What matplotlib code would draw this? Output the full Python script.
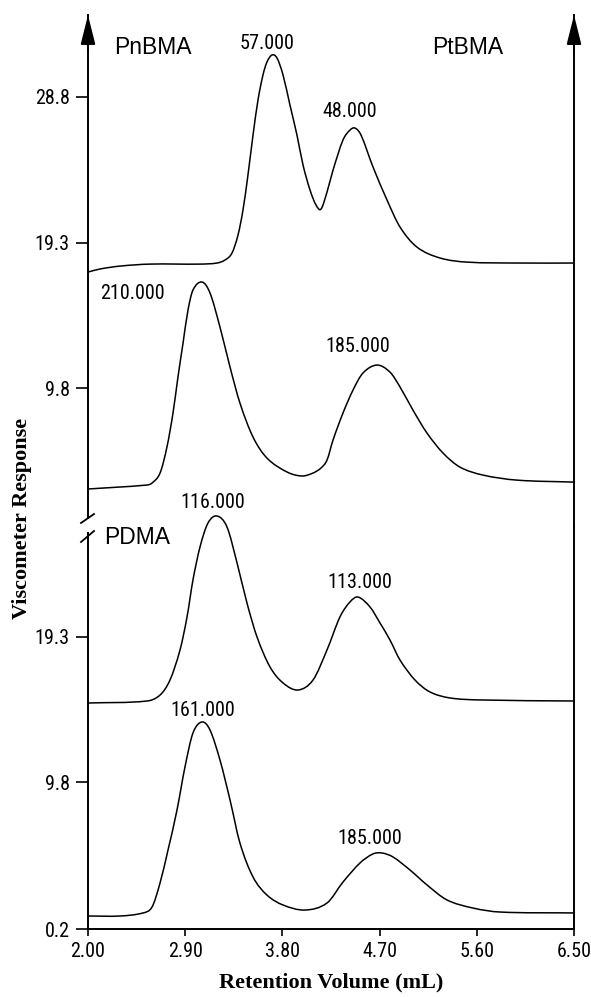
import matplotlib
matplotlib.use("Agg")
import matplotlib.pyplot as plt
from matplotlib.lines import Line2D
from matplotlib.path import Path
from matplotlib.patches import PathPatch
from matplotlib import font_manager

# ---------------- data (retention volume in mL, viscometer response) ----------------
# Curve 1: PnBMA / PtBMA (upper panel, top trace)
c1_x = [2.000, 2.111, 2.296, 2.574, 3.037, 3.194, 3.269, 3.333, 3.389, 3.435, 3.481,
        3.528, 3.574, 3.620, 3.657, 3.704, 3.750, 3.806, 3.870, 3.935, 3.991, 4.056,
        4.111, 4.157, 4.213, 4.269, 4.361, 4.426, 4.472, 4.528, 4.639, 4.769, 4.889,
        5.046, 5.259, 5.509, 6.000, 6.500]
c1_y = [17.37, 17.57, 17.76, 17.89, 17.89, 17.96, 18.16, 18.61, 19.79, 21.42, 23.70,
        26.31, 28.60, 30.23, 31.08, 31.54, 31.34, 30.23, 28.27, 26.31, 24.36, 22.72,
        21.75, 21.48, 22.59, 24.03, 25.99, 26.64, 26.77, 26.31, 24.23, 22.07, 20.31,
        19.00, 18.29, 18.02, 17.96, 17.96]

# Curve 2: upper panel, lower trace
c2_x = [2.000, 2.546, 2.593, 2.667, 2.731, 2.787, 2.833, 2.880, 2.926, 2.972, 3.056,
        3.130, 3.222, 3.315, 3.407, 3.528, 3.657, 3.843, 3.981, 4.083, 4.157, 4.213,
        4.269, 4.361, 4.454, 4.546, 4.676, 4.796, 4.889, 5.009, 5.139, 5.287, 5.444,
        5.657, 5.972, 6.500]
c2_y = [3.21, 3.47, 3.60, 4.25, 5.95, 8.17, 10.52, 12.74, 14.89, 16.20, 16.72,
        16.00, 13.78, 11.17, 8.82, 6.60, 5.23, 4.32, 4.06, 4.25, 4.58, 5.10,
        6.41, 8.17, 9.67, 10.78, 11.30, 10.84, 9.87, 8.36, 6.86, 5.56, 4.64,
        4.12, 3.79, 3.66]

# Curve 3: PDMA (lower panel, top trace)
c3_x = [2.000, 2.546, 2.667, 2.759, 2.852, 2.917, 2.972, 3.037, 3.111, 3.194, 3.287,
        3.380, 3.472, 3.565, 3.685, 3.806, 3.944, 4.083, 4.213, 4.333, 4.426, 4.500,
        4.611, 4.704, 4.796, 4.889, 5.028, 5.167, 5.352, 5.630, 6.500]
c3_y = [14.98, 15.11, 15.50, 16.48, 18.45, 20.61, 23.03, 25.18, 26.75, 27.21, 26.49,
        24.14, 21.52, 19.30, 17.34, 16.29, 15.83, 16.48, 18.45, 20.61, 21.59, 21.91,
        21.26, 20.21, 19.10, 17.79, 16.48, 15.70, 15.31, 15.18, 15.11]

# Curve 4: lower panel, bottom trace
c4_x = [2.000, 2.296, 2.509, 2.593, 2.667, 2.741, 2.824, 2.898, 2.972, 3.056, 3.130,
        3.222, 3.315, 3.407, 3.528, 3.657, 3.806, 4.009, 4.213, 4.361, 4.519, 4.639,
        4.722, 4.824, 4.981, 5.139, 5.324, 5.565, 5.815, 6.500]
c4_y = [1.05, 1.05, 1.25, 1.64, 3.21, 5.37, 7.98, 10.80, 13.02, 13.74, 13.21,
        11.25, 8.64, 5.82, 3.60, 2.42, 1.77, 1.44, 1.90, 3.27, 4.52, 5.11,
        5.17, 4.91, 4.06, 3.08, 2.10, 1.57, 1.31, 1.25]

x_ticks = [2.00, 2.90, 3.80, 4.70, 5.60, 6.50]
x_ticklabels = ["2.00", "2.90", "3.80", "4.70", "5.60", "6.50"]
top_yticks = [9.8, 19.3, 28.8]
bot_yticks = [0.2, 9.8, 19.3]

# peak labels: (x, y, text) -- centre of the label
top_peaks = [(3.657, 32.32, "57.000"), (4.426, 27.82, "48.000"),
             (2.407, 16.00, "210.000"), (4.500, 12.48, "185.000")]
bot_peaks = [(3.157, 28.06, "116.000"), (4.519, 22.89, "113.000"),
             (3.065, 14.52, "161.000"), (4.611, 6.15, "185.000")]

# ---------------- fonts ----------------
names = {f.name for f in font_manager.fontManager.ttflist}
NUM_FAMILY, NUM_SIZE = ["Liberation Sans", "DejaVu Sans"], 12.8
for cand, size in (("Liberation Sans Narrow", 15.0), ("Noto Sans Condensed", 14.0),
                   ("DejaVu Sans Condensed", 13.5), ("Roboto Condensed", 14.5)):
    if cand in names:
        NUM_FAMILY, NUM_SIZE = [cand, "DejaVu Sans"], size
        break
SANS = ["Liberation Sans", "DejaVu Sans"]
SERIF = ["Liberation Serif", "DejaVu Serif"]

W, H = 591, 997
fig = plt.figure(figsize=(W / 100, H / 100), dpi=100)


def fx(px):
    return px / W


def fy(py):
    return 1 - py / H


LEFT, RIGHT = 88, 574
BREAK = 527
ax_top = fig.add_axes([fx(LEFT), fy(BREAK), fx(RIGHT - LEFT), fy(15) - fy(BREAK)])
ax_bot = fig.add_axes([fx(LEFT), fy(929), fx(RIGHT - LEFT), fy(BREAK) - fy(929)])

ax_top.set_ylim(0.73, 34.15)
ax_bot.set_ylim(0.2, 26.49)
for ax in (ax_top, ax_bot):
    ax.set_xlim(2.0, 6.5)
    ax.spines["top"].set_visible(False)
    for s in ("left", "right", "bottom"):
        ax.spines[s].set_linewidth(1.4)
    ax.tick_params(axis="y", direction="out", length=9, width=1.2, pad=4)
    ax.patch.set_alpha(0)

ax_top.spines["bottom"].set_visible(False)
ax_top.tick_params(axis="x", bottom=False, labelbottom=False)
ax_top.spines["left"].set_bounds(0.73 + (527 - 518) / 15.32, 34.15)
ax_bot.spines["left"].set_bounds(0.2, 26.49 - (533 - 527) / 15.29)

ax_top.set_yticks(top_yticks)
ax_top.set_yticklabels([f"{v:.1f}" for v in top_yticks], family=NUM_FAMILY, fontsize=NUM_SIZE)
ax_bot.set_yticks(bot_yticks)
ax_bot.set_yticklabels([f"{v:.1f}" for v in bot_yticks], family=NUM_FAMILY, fontsize=NUM_SIZE)
ax_bot.set_xticks(x_ticks)
ax_bot.set_xticklabels(x_ticklabels, family=NUM_FAMILY, fontsize=NUM_SIZE)
ax_bot.tick_params(axis="x", direction="out", length=5, width=1.2, pad=4)


def smooth_path(xs, ys):
    """Cubic Hermite curve through the read points, drawn as Bezier segments."""
    n = len(xs)
    m = []
    for i in range(n):
        if i == 0:
            m.append((ys[1] - ys[0]) / (xs[1] - xs[0]))
        elif i == n - 1:
            m.append((ys[-1] - ys[-2]) / (xs[-1] - xs[-2]))
        else:
            m.append((ys[i + 1] - ys[i - 1]) / (xs[i + 1] - xs[i - 1]))
    verts = [(xs[0], ys[0])]
    codes = [Path.MOVETO]
    for i in range(n - 1):
        dx = xs[i + 1] - xs[i]
        verts += [(xs[i] + dx / 3, ys[i] + m[i] * dx / 3),
                  (xs[i + 1] - dx / 3, ys[i + 1] - m[i + 1] * dx / 3),
                  (xs[i + 1], ys[i + 1])]
        codes += [Path.CURVE4] * 3
    return Path(verts, codes)


lw = 1.1
for ax, xs, ys in ((ax_top, c1_x, c1_y), (ax_top, c2_x, c2_y),
                   (ax_bot, c3_x, c3_y), (ax_bot, c4_x, c4_y)):
    ax.add_patch(PathPatch(smooth_path(xs, ys), fill=False, edgecolor="black", lw=lw,
                           clip_on=False))

for x, y, t in top_peaks:
    ax_top.text(x, y, t, ha="center", va="center", family=NUM_FAMILY, fontsize=NUM_SIZE)
for x, y, t in bot_peaks:
    ax_bot.text(x, y, t, ha="center", va="center", family=NUM_FAMILY, fontsize=NUM_SIZE)

fig.text(fx(153), fy(48), "PnBMA", ha="center", va="center", family=SANS, fontsize=16.5)
fig.text(fx(468), fy(48), "PtBMA", ha="center", va="center", family=SANS, fontsize=16.5)
fig.text(fx(137), fy(537), "PDMA", ha="center", va="center", family=SANS, fontsize=16.5)

# arrow heads on the two vertical axes
for xv in (2.0, 6.5):
    ax_top.annotate("", xy=(xv, 1.0), xycoords=("data", "axes fraction"),
                    xytext=(xv, 0.93), textcoords=("data", "axes fraction"),
                    arrowprops=dict(arrowstyle="-|>,head_length=1.0,head_width=0.25",
                                    mutation_scale=18, color="black", lw=1.4,
                                    shrinkA=0, shrinkB=0),
                    annotation_clip=False)

# axis break marks
for y0, y1 in ((523, 514), (542, 531)):
    fig.add_artist(Line2D([fx(81), fx(94)], [fy(y0), fy(y1)], color="black", lw=1.3,
                          transform=fig.transFigure))

fig.text(fx(331), fy(982), "Retention Volume (mL)", ha="center", va="center",
         family=SERIF, fontweight="bold", fontsize=16)
fig.text(fx(22), fy(518), "Viscometer Response", ha="center", va="center", rotation=90,
         family=SERIF, fontweight="bold", fontsize=16)

fig.savefig("out.png", dpi=100)
